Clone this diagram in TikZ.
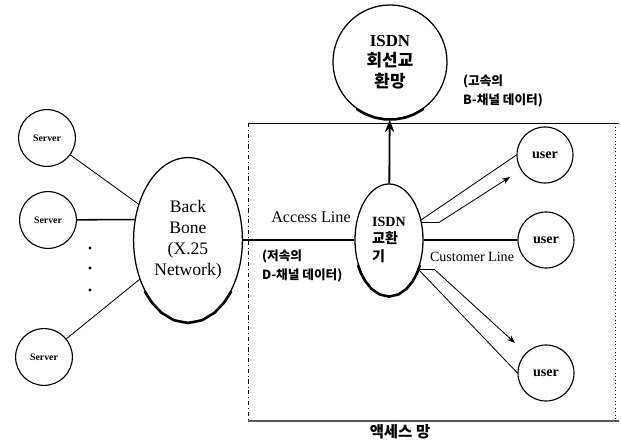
\documentclass[tikz,border=0pt]{standalone}
\usepackage{fontspec}
\setmainfont{Liberation Serif}
\newfontfamily\kr{Noto Sans CJK KR}
\usetikzlibrary{shapes.geometric,arrows.meta,positioning}

\begin{document}
\begin{tikzpicture}[x=0.025cm, y=-0.025cm, >=Stealth, line width=0.6pt,
    srv/.style={circle, draw, line width=0.8pt, minimum size=1.42cm, inner sep=0pt, font=\fontsize{7}{8}\selectfont\bfseries},
    usr/.style={circle, draw, line width=0.8pt, minimum size=1.4cm, inner sep=0pt, font=\fontsize{10}{12}\selectfont\bfseries},
    net/.style={ellipse, draw, line width=0.9pt, inner sep=0pt, align=center},
    heavy/.style={line width=1.8pt, line cap=round}]

    \useasboundingbox (0,0) rectangle (621,445);

       % ISDN circuit network (top)
        \node[circle, draw, line width=0.9pt, minimum size=2.85cm, inner sep=0pt, align=center, font=\fontsize{12}{14.5}\selectfont\bfseries] (isdn) at (390,62) {ISDN\\{\kr 회선교}\\{\kr 환망}};
        \draw[heavy] (isdn.-125) \foreach \a in {-115,-105,...,-55} {-- (isdn.\a)};
        \node[anchor=west, align=left, font=\fontsize{9}{13}\selectfont\kr\bfseries] (blab) at (458,91) {(고속의\\B-채널 데이터)};

       % Back bone and servers (left)
        \node[net, minimum width=2.72cm, minimum height=4.12cm, font=\fontsize{12.5}{15}\selectfont] (bb) at (188,240) {Back\\Bone\\(X.25\\Network)};
        \draw[heavy] (bb.-130) \foreach \a in {-120,-110,...,-50} {-- (bb.\a)};
        \node[srv] (srv1) at (47,138) {Server};
        \node[srv] (srv2) at (48,220) {Server};
        \node[srv] (srv3) at (44,357) {Server};
        \foreach \y in {248,268,290} \fill (90,\y) circle (1.1pt);

        \draw (srv1) -- (bb);
        \draw[line width=1.1pt] (srv2) -- (bb.159);
        \draw (srv3) -- (bb);

       % Access network (right)
        \coordinate (boxNW) at (248,123);
        \coordinate (boxSW) at (248,421);
        \coordinate (boxNE) at (615,123);
        \coordinate (boxSE) at (615,421);
        \draw (boxNW) -- (619,123);
        \draw[gray!70!black, line width=1.1pt] (boxSW) -- (619,421);
        \draw[dash dot, line width=0.5pt] (boxNW) -- (boxSW);
        \draw[dotted, line width=0.5pt] (boxNE) -- (boxSE);
        \node[font=\fontsize{11}{13}\selectfont\kr\bfseries] (accnet) at (400,432) {액세스 망};

        \node[net, minimum width=1.7cm, minimum height=2.8cm, align=left, font=\fontsize{10}{12.5}\selectfont\bfseries] (exch) at (389,240) {ISDN\\{\kr 교환}\\{\kr 기}};
        \draw[heavy] (exch.-140) \foreach \a in {-130,-120,...,-40} {-- (exch.\a)};
        \node[usr] (user1) at (545,155) {user};
        \node[usr] (user2) at (546,240) {user};
        \node[usr] (user3) at (546,373) {user};
        \coordinate (tip1) at (510,177);
        \coordinate (tip3) at (515,343);

        \draw[line width=1.1pt] (bb) -- (exch);
        \node[font=\fontsize{11.5}{13}\selectfont] (acc) at (311,217) {Access Line};
        \node[anchor=west, align=left, font=\fontsize{9}{13}\selectfont\kr\bfseries] (dlab) at (257,266) {(저속의\\D-채널 데이터)};

        \draw[->, line width=1.3pt] (exch) -- (isdn);
        \draw (exch.32) -- (user1.west);
        \draw[->] (exch.28) -- ++(17,0) -- (tip1);
        \draw[line width=1.1pt] (exch) -- (user2);
        \node[font=\fontsize{10}{12}\selectfont] (cust) at (472,257) {Customer Line};
        \draw (exch.-45) -- (user3.west);
        \draw[->] (exch.-45) -- ++(16,0) -- (tip3);

    \end{tikzpicture}
\end{document}
